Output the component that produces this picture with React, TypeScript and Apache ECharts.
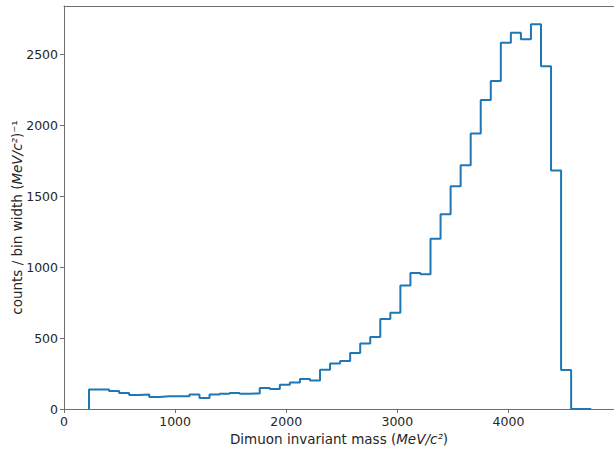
import React, { useEffect, useRef } from "react";
import * as echarts from "echarts";

// Histogram binning (MeV/c^2)
const binEdgeStart = 225;
const binWidth = 90.4;
// counts / bin width per bin
const binValues = [
  138, 138, 127, 113, 99, 103, 85, 89, 89, 89,
  103, 77, 103, 108, 113, 108, 110, 148, 141, 171,
  187, 211, 201, 277, 321, 338, 394, 462, 507, 634,
  678, 870, 958, 950, 1199, 1373, 1570, 1718, 1942, 2178,
  2312, 2581, 2652, 2606, 2711, 2415, 1680, 275, 0, 0,
];
const xTicks = [0, 1000, 2000, 3000, 4000];
const yTicks = [0, 500, 1000, 1500, 2000, 2500];

const FONT = "DejaVu Sans";
const TEXT = "#262626";
const SPINE = "#6e6e6e";
const FS = 12.5;
const NFS = 13.5;

export default function App() {
  const ref = useRef<HTMLDivElement>(null);
  useEffect(() => {
    if (!ref.current) return;
    const chart = echarts.init(ref.current, undefined, { renderer: "svg" });
    const pts: number[][] = [];
    binValues.forEach((v, i) => {
      const l = binEdgeStart + i * binWidth;
      const r = binEdgeStart + (i + 1) * binWidth;
      if (i === 0) pts.push([l, 0]);
      pts.push([l, v]);
      pts.push([r, v]);
    });
    pts.push([binEdgeStart + binValues.length * binWidth, 0]);

    const fmt = (v: number) => String(v);

    chart.setOption({
      animation: false,
      grid: { left: 64, right: 0, top: 6, bottom: 40, containLabel: false, outerBoundsMode: "none" },
      xAxis: [
        {
          type: "value",
          min: 0,
          max: 4950,
          interval: 1000,
          splitLine: { show: false },
          axisLine: { show: true, lineStyle: { color: SPINE, width: 1 } },
          axisTick: { show: true, inside: false, length: 4, customValues: xTicks, lineStyle: { color: SPINE } },
          axisLabel: {
            customValues: xTicks,
            formatter: fmt,
            margin: 6,
            color: TEXT,
            fontFamily: FONT,
            fontSize: FS,
          },
          name: "Dimuon invariant mass ({i|MeV/c²})",
          nameLocation: "middle",
          nameGap: 23,
          nameMoveOverlap: false,
          nameTextStyle: {
            color: TEXT,
            fontFamily: FONT,
            fontSize: NFS,
            rich: { i: { fontStyle: "italic", fontFamily: FONT, fontSize: NFS, color: TEXT } },
          },
        },
        {
          type: "value",
          position: "top",
          min: 0,
          max: 4950,
          splitLine: { show: false },
          axisLine: { show: true, lineStyle: { color: SPINE, width: 1 } },
          axisTick: { show: false },
          axisLabel: { show: false },
        },
      ],
      yAxis: {
        type: "value",
        min: 0,
        max: 2840,
        interval: 500,
        splitLine: { show: false },
        axisLine: { show: true, lineStyle: { color: SPINE, width: 1 } },
        axisTick: { show: true, inside: false, length: 4, customValues: yTicks, lineStyle: { color: SPINE } },
        axisLabel: {
          customValues: yTicks,
          formatter: fmt,
          margin: 6,
          color: TEXT,
          fontFamily: FONT,
          fontSize: FS,
        },
        name: "counts / bin width ({i|MeV/c²})⁻¹",
        nameLocation: "middle",
        nameRotate: 90,
        nameGap: 40,
        nameMoveOverlap: false,
        nameTextStyle: {
          color: TEXT,
          fontFamily: FONT,
          fontSize: NFS,
          padding: [0, 20, 0, 0],
          rich: { i: { fontStyle: "italic", fontFamily: FONT, fontSize: NFS, color: TEXT } },
        },
      },
      series: [
        {
          type: "line",
          xAxisIndex: 0,
          data: pts,
          showSymbol: false,
          symbol: "none",
          lineStyle: { color: "#1f77b4", width: 2 },
          clip: true,
        },
      ],
    });
    return () => chart.dispose();
  }, []);
  return (
    <div
      ref={ref}
      style={{ position: "absolute", left: 0, top: 0, width: 614, height: 449, background: "#fff" }}
    />
  );
}
